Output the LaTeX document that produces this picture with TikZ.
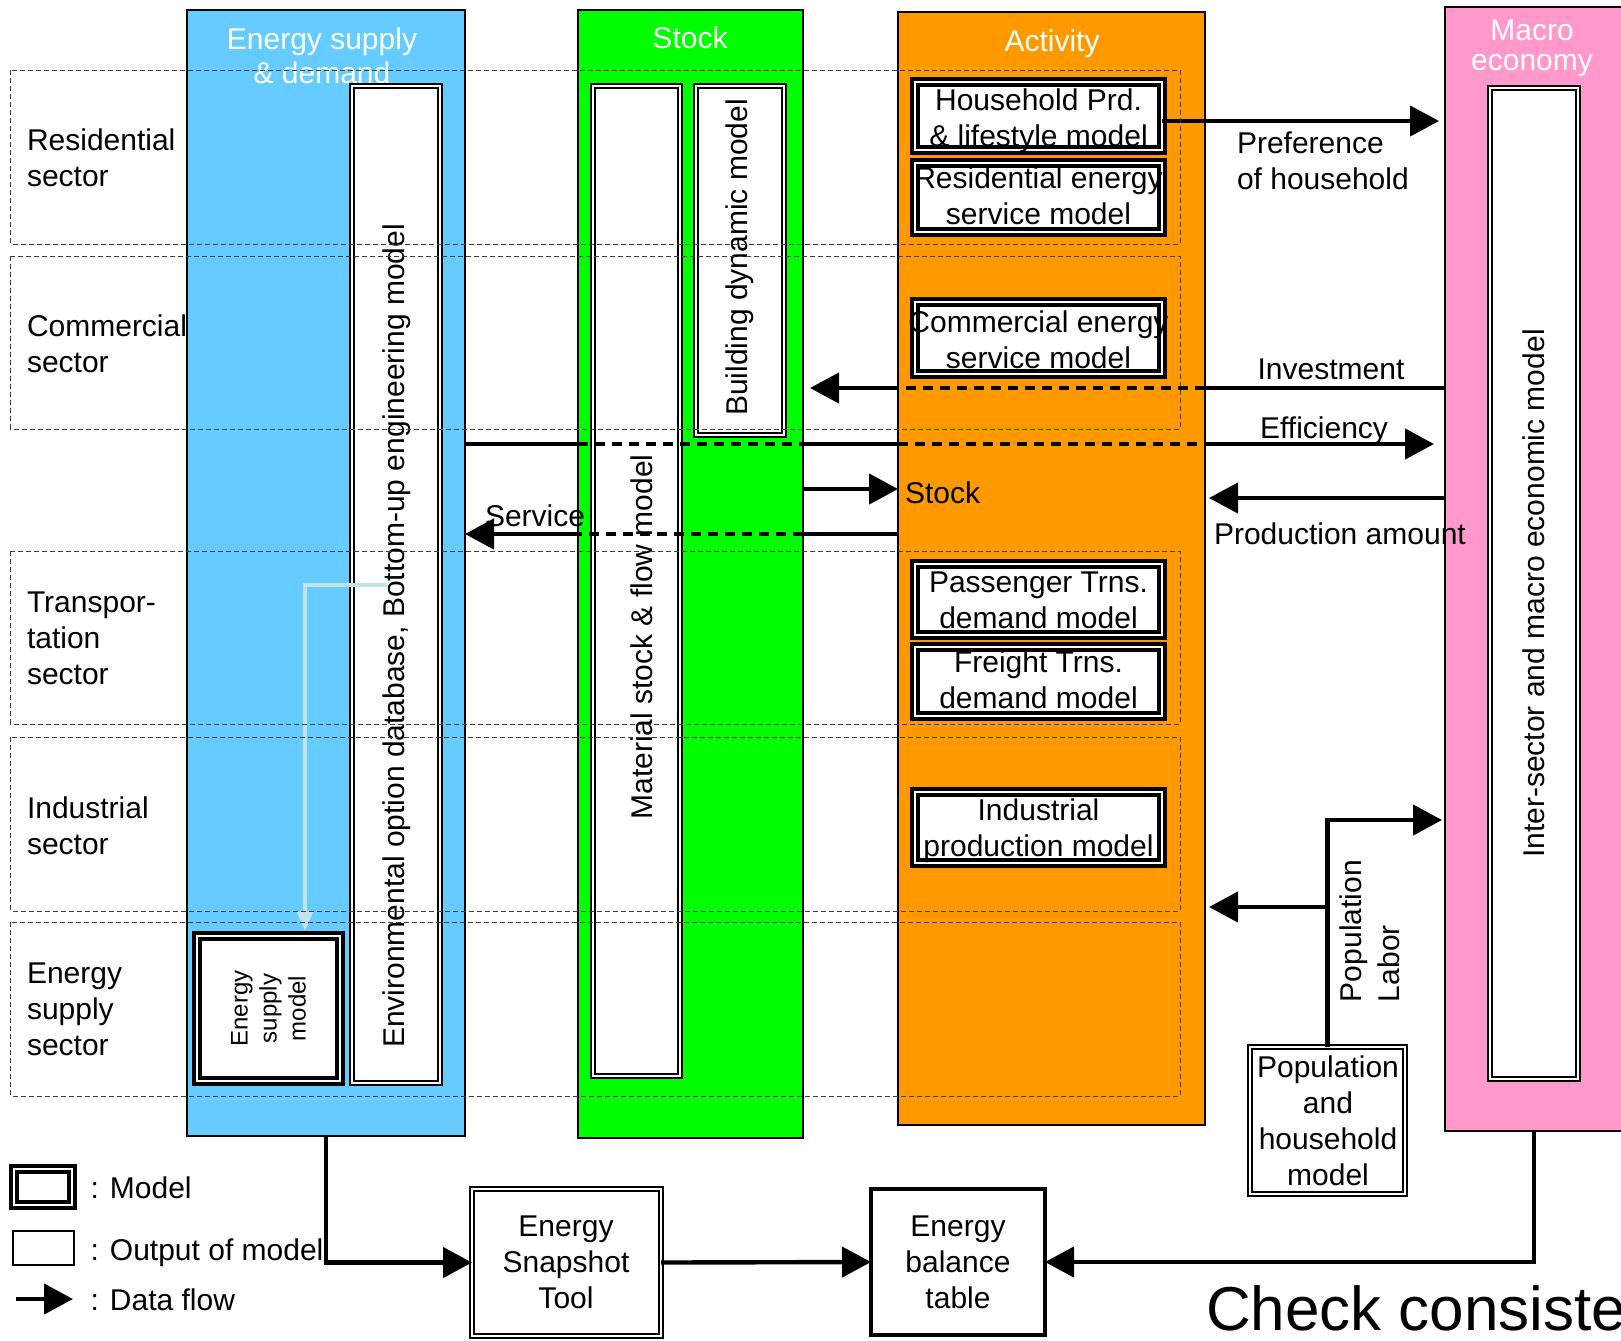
\documentclass[tikz,border=0pt]{standalone}
\usepackage{fontspec}
\setmainfont{Liberation Sans}
\usetikzlibrary{arrows.meta,fit,calc}
\definecolor{cblue}{HTML}{66CCFF}
\definecolor{cgreen}{HTML}{00FF00}
\definecolor{corange}{HTML}{FF9900}
\definecolor{cpink}{HTML}{FF99CC}
\definecolor{clight}{HTML}{C2E3E8}
\definecolor{crow}{HTML}{404040}
\begin{document}
\begin{tikzpicture}[x=0.5pt,y=-0.5pt,
  every node/.style={inner sep=0pt,outer sep=0pt},
  panel/.style={draw=black,line width=1pt},
  mthick/.style={draw=black,line width=2pt,double=white,double distance=0.75pt,fill=white},
  mthin/.style={draw=black,line width=1.2pt,double=white,double distance=0.75pt,fill=white},
  txt/.style={font=\fontsize{15}{18}\selectfont,align=center},
  lefttxt/.style={font=\fontsize{15}{18}\selectfont,align=left},
  title/.style={font=\fontsize{15}{17}\selectfont,align=center,text=white},
  flow/.style={line width=2.2pt,-{Triangle[length=14.5pt,width=15pt]}},
  flowline/.style={line width=2.2pt},
  flowdash/.style={line width=1.6pt,dash pattern=on 5pt off 3.5pt},
  lightflow/.style={draw=clight,line width=2pt,-{Triangle[length=10pt,width=8pt]}},
  rowbox/.style={draw=crow,line width=0.5pt,dash pattern=on 2.5pt off 1.5pt},
]
\useasboundingbox (0,0) rectangle (1621,1340);

% coloured panels
\node[panel,fill=cblue,fit={(187,10) (465,1136)}] (ene) {};
\node[panel,fill=cgreen,fit={(578,10) (803,1138)}] (stock) {};
\node[panel,fill=corange,fit={(898,12) (1205,1125)}] (act) {};
\node[panel,fill=cpink,fit={(1445,7) (1700,1131)}] (macro) {};

% titles
\node[title,anchor=north] (tene) at (322,28) {Energy supply\\\& demand};
\node[title,anchor=north] (tstock) at (690,27) {Stock};
\node[title,anchor=north] (tact) at (1052,30) {Activity};
\node[title,anchor=north,font=\fontsize{15}{15}\selectfont] (tmacro) at (1532,20) {Macro\\economy};

% model boxes
\node[mthin,fit={(352,86) (440,1083)}] (env) {};
\node[mthin,fit={(593,86) (680,1076)}] (mat) {};
\node[mthin,fit={(696,86) (784,435)}] (bld) {};
\node[mthin,fit={(1490,88) (1578,1079)}] (macroin) {};
\node[mthick,fit={(197,936) (340,1081)}] (esm) {};
\node[mthick,fit={(915,82) (1162,150)}] (hh) {};
\node[mthick,fit={(915,163) (1162,232)}] (res) {};
\node[mthick,fit={(915,302) (1162,374)}] (com) {};
\node[mthick,fit={(915,564) (1162,635)}] (pas) {};
\node[mthick,fit={(915,647) (1162,716)}] (fre) {};
\node[mthick,fit={(915,792) (1162,863)}] (ind) {};
\node[mthin,fit={(1250,1047) (1405,1194)}] (pop) {};
\node[mthin,fit={(472,1189) (661,1336)}] (snap) {};
\node[draw=black,line width=2pt,fill=white,fit={(871,1189) (1045,1335)}] (bal) {};
\node[mthick,fit={(14,1169) (72,1205)}] (lgmodel) {};
\node[draw=black,line width=1pt,fill=white,fit={(13,1231) (74,1265)}] (lgout) {};

% texts of the models
\node[txt,anchor=north] (thh) at (1038.5,88.5) {Household Prd.\\\& lifestyle model};
\node[txt,anchor=north] (tres) at (1038.5,166.5) {Residential energy\\service model};
\node[txt,anchor=north] (tcom) at (1038.5,310.5) {Commercial energy\\service model};
\node[txt,anchor=north] (tpas) at (1038.5,571.5) {Passenger Trns.\\demand model};
\node[txt,anchor=north] (tfre) at (1038.5,650.5) {Freight Trns.\\demand model};
\node[txt,anchor=north] (tind) at (1038.5,798.5) {Industrial\\production model};
\node[txt,anchor=north] (tpop) at (1328,1055.5) {Population\\and\\household\\model};
\node[txt,anchor=north] (tsnap) at (566,1215.5) {Energy\\Snapshot\\Tool};
\node[txt,anchor=north] (tbal) at (958,1215.5) {Energy\\balance\\table};
\node[txt,rotate=90] (tenv) at (396.5,636) {Environmental option database, Bottom-up engineering model};
\node[txt,rotate=90] (tmat) at (642,637) {Material stock \& flow model};
\node[txt,rotate=90] (tbld) at (740,257.5) {Building dynamic model};
\node[txt,rotate=90] (tmac) at (1533.5,593.5) {Inter-sector and macro economic model};
\node[txt,rotate=90,font=\fontsize{12}{14.5}\selectfont] (tesm) at (268.5,1008.5) {Energy\\supply\\model};

% connector levels
\coordinate (yPref) at (0,121);
\coordinate (yInv) at (0,388);
\coordinate (yEff) at (0,444);
\coordinate (yStk) at (0,489);
\coordinate (yProd) at (0,498);
\coordinate (ySrv) at (0,534);
\coordinate (yLab) at (0,820);
\coordinate (yPop) at (0,907);

% connectors
\draw[flow] (hh.east |- yPref) -- ($(macro.west |- yPref)+(-6,0)$);
\draw[flowline] (macro.west |- yInv) -- (act.east |- yInv);
\draw[flowdash] (act.east |- yInv) -- (act.west |- yInv);
\draw[flow] (act.west |- yInv) -- ($(stock.east |- yInv)+(7,0)$);
\draw[flowline] (ene.east |- yEff) -- (stock.west |- yEff);
\draw[flowdash] (stock.west |- yEff) -- (stock.east |- yEff);
\draw[flowline] (stock.east |- yEff) -- (act.west |- yEff);
\draw[flowdash] (act.west |- yEff) -- (act.east |- yEff);
\draw[flow] (act.east |- yEff) -- ($(macro.west |- yEff)+(-11,0)$);
\draw[flow] (stock.east |- yStk) -- (act.west |- yStk);
\draw[flow] (macro.west |- yProd) -- ($(act.east |- yProd)+(4,0)$);
\draw[flowline] (act.west |- ySrv) -- (stock.east |- ySrv);
\draw[flowdash] (stock.east |- ySrv) -- (stock.west |- ySrv);
\draw[flow] (stock.west |- ySrv) -- (ene.east |- ySrv);
\draw[flow] (pop.north) |- ($(macro.west |- yLab)+(-3,0)$);
\draw[flow] (pop.north |- yPop) -- ($(act.east |- yPop)+(4,0)$);
\draw[flow] (ene.south) |- (snap.west);
\draw[flow] (snap.east) -- (bal.west);
\draw[flow] (macroin.south |- macro.south) |- (bal.east);

\coordinate (lstart) at (387,585);
\coordinate (lx) at (305,0);
\draw[lightflow] (lstart) -| ($(lx |- esm.north)+(0,-5)$);

\coordinate (lgA) at (16,1299);
\coordinate (lgB) at (73,1299);
\draw[flow] (lgA) -- (lgB);

% sector rows
\draw[rowbox] (10.7,70) rectangle (1180,244);
\draw[rowbox] (10.7,256) rectangle (1180,429);
\draw[rowbox] (10.7,551) rectangle (1180,724);
\draw[rowbox] (10.7,737) rectangle (1180,911);
\draw[rowbox] (10.7,922) rectangle (1180,1096);

% sector labels
\node[lefttxt,anchor=north west] (lres) at (27,128.5) {Residential\\sector};
\node[lefttxt,anchor=north west] (lcom) at (27,315) {Commercial\\sector};
\node[lefttxt,anchor=north west] (ltra) at (27,592) {Transpor-\\tation\\sector};
\node[lefttxt,anchor=north west] (lind) at (27,797) {Industrial\\sector};
\node[lefttxt,anchor=north west] (lesu) at (27,963) {Energy\\supply\\sector};

% flow labels
\node[lefttxt,anchor=north west] (lpref) at (1237,131.5) {Preference\\of household};
\node[txt,anchor=north] (linv) at (1331,358.5) {Investment};
\node[txt,anchor=north] (leff) at (1324,416.5) {Efficiency};
\node[lefttxt,anchor=north west] (lstk) at (905,481.5) {Stock};
\node[lefttxt,anchor=north west] (lprod) at (1214,522.5) {Production amount};
\node[lefttxt,anchor=north west] (lsrv) at (485,504.5) {Service};
\node[lefttxt,rotate=90,anchor=north west,font=\fontsize{15}{19}\selectfont] (lpl) at (1340,1002) {Population\\Labor};

% legend
\node[txt,anchor=base west] (lgt1) at (90.5,1198) {: Model};
\node[txt,anchor=base west] (lgt2) at (90.5,1260) {: Output of model};
\node[txt,anchor=base west] (lgt3) at (90.5,1310) {: Data flow};

\begin{scope}
\clip (0,0) rectangle (1621,1340);
\node[anchor=base west,font=\fontsize{31}{36}\selectfont] (chk) at (1206,1330) {Check consistency};
\end{scope}
\end{tikzpicture}
\end{document}
